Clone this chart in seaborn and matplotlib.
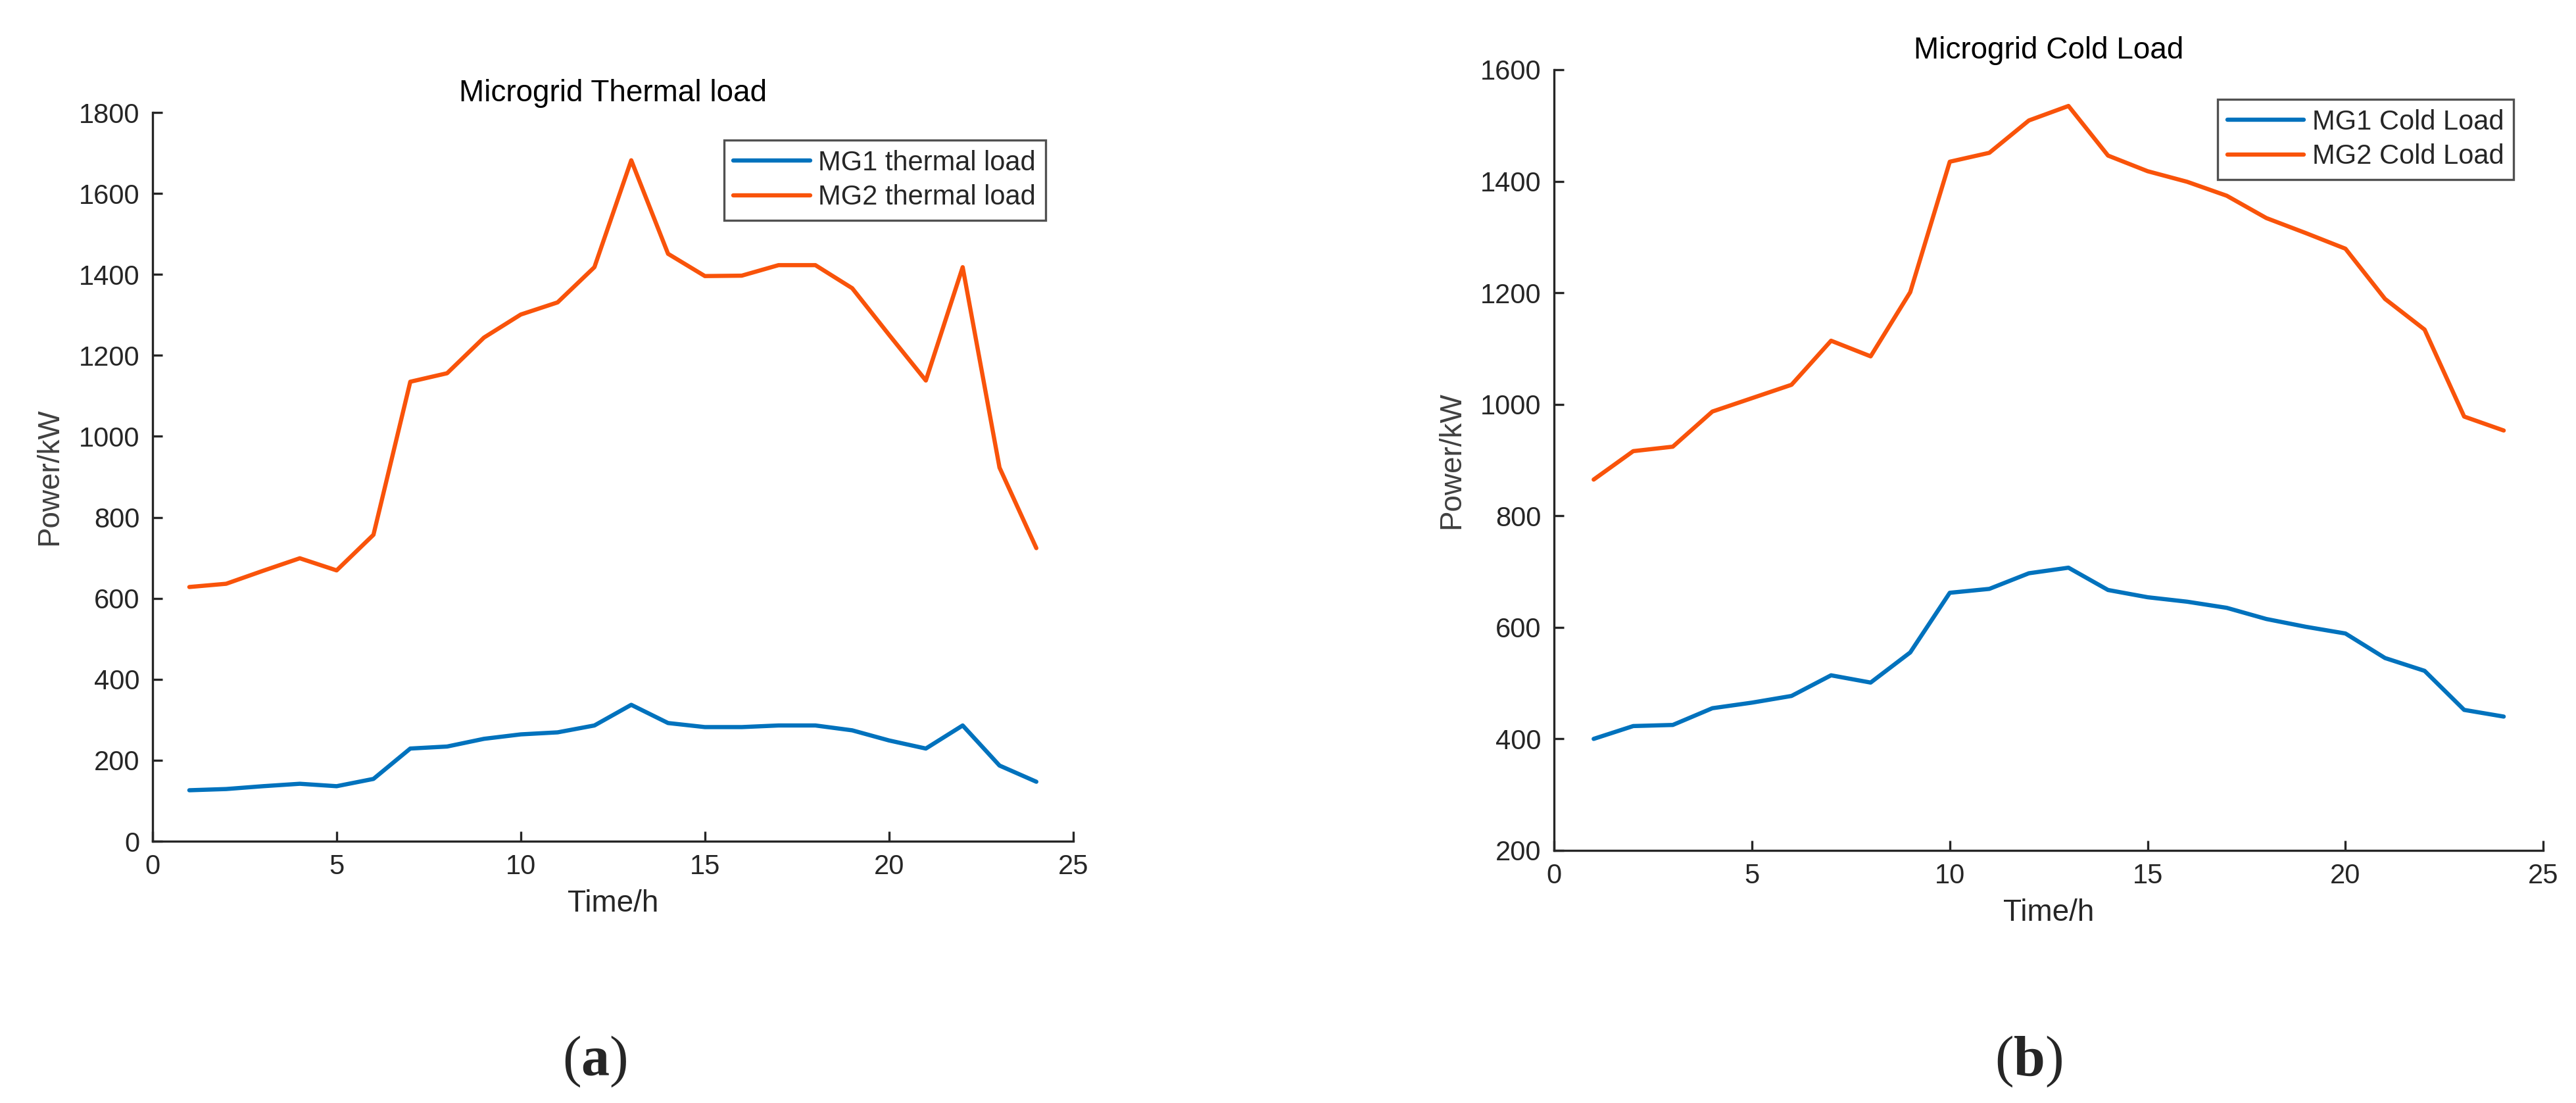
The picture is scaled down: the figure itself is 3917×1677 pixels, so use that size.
import matplotlib
matplotlib.use("Agg")
import matplotlib.pyplot as plt
import seaborn as sns
import pandas as pd

# hourly load data
hours = list(range(1, 25))
mg1_thermal = [126, 129, 136, 142, 136, 154, 229, 234, 253, 264, 269, 286,
               337, 292, 282, 282, 286, 286, 274, 249, 229, 286, 187, 147]
mg2_thermal = [628, 636, 668, 699, 669, 757, 1135, 1156, 1244, 1301, 1331, 1418,
               1682, 1451, 1396, 1397, 1423, 1423, 1366, 1251, 1138, 1418, 923, 724]
mg1_cold = [400, 423, 425, 455, 465, 477, 514, 501, 555, 662, 669, 697,
            707, 667, 654, 646, 635, 615, 601, 589, 545, 522, 452, 440]
mg2_cold = [865, 916, 924, 987, 1011, 1035, 1114, 1086, 1201, 1435, 1451, 1509,
            1535, 1446, 1418, 1399, 1374, 1334, 1307, 1279, 1189, 1134, 978, 953]

thermal_labels = ["MG1 thermal load", "MG2 thermal load"]
cold_labels = ["MG1 Cold Load", "MG2 Cold Load"]
x_ticks = [0, 5, 10, 15, 20, 25]
thermal_yticks = list(range(0, 1801, 200))
cold_yticks = list(range(200, 1601, 200))

BLUE = "#0072BD"
ORANGE = "#F9530A"
DARK = "#262626"

sns.set_style("ticks")
plt.rcParams["font.family"] = ["Liberation Sans", "DejaVu Sans"]
plt.rcParams["mathtext.fontset"] = "custom"
plt.rcParams["mathtext.rm"] = "Liberation Serif"
plt.rcParams["mathtext.bf"] = "Liberation Serif:bold"


def long_frame(s1, s2, labels):
    return pd.DataFrame({
        "Time": hours + hours,
        "Power": s1 + s2,
        "Series": [labels[0]] * len(hours) + [labels[1]] * len(hours),
    })


def draw_panel(ax, df, labels, title, ylim, yticks):
    sns.lineplot(data=df, x="Time", y="Power", hue="Series", hue_order=labels,
                 palette=[BLUE, ORANGE], linewidth=4.6, ax=ax)
    ax.set_xlim(0, 25)
    ax.set_ylim(*ylim)
    ax.set_xticks(x_ticks)
    ax.set_yticks(yticks)
    ax.tick_params(direction="in", length=11, width=2.4, labelsize=30,
                   colors=DARK, pad=14)
    for side in ["top", "right"]:
        ax.spines[side].set_visible(False)
    for side in ["left", "bottom"]:
        ax.spines[side].set_linewidth(2.4)
        ax.spines[side].set_color(DARK)
    ax.set_xlabel("Time/h", fontsize=33, color=DARK, labelpad=10)
    ax.set_ylabel("Power/kW", fontsize=33, color="#404040", labelpad=16)
    ax.set_title(title, fontsize=33, color="black", pad=12)
    leg = ax.legend(loc="upper right", bbox_to_anchor=(0.97, 0.962),
                    frameon=True, fancybox=False, edgecolor=DARK, fontsize=30,
                    handlelength=2.8, borderpad=0.35, labelspacing=0.3,
                    handletextpad=0.3, borderaxespad=0)
    leg.get_frame().set_linewidth(2.4)
    for line in leg.get_lines():
        line.set_linewidth(4.6)


fig = plt.figure(figsize=(39.17, 16.77), dpi=100)
ax_a = fig.add_axes([0.0592, 0.2373, 0.3574, 0.6607])
ax_b = fig.add_axes([0.6033, 0.2290, 0.3840, 0.7078])

draw_panel(ax_a, long_frame(mg1_thermal, mg2_thermal, thermal_labels),
           thermal_labels, "Microgrid Thermal load", (0, 1800), thermal_yticks)
draw_panel(ax_b, long_frame(mg1_cold, mg2_cold, cold_labels),
           cold_labels, "Microgrid Cold Load", (200, 1600), cold_yticks)

fig.text(0.2308, 0.037, r"($\mathbf{a}$)", ha="center", va="center",
         fontsize=62, family="Liberation Serif")
fig.text(0.7876, 0.037, r"($\mathbf{b}$)", ha="center", va="center",
         fontsize=62, family="Liberation Serif")

fig.savefig("out.png", dpi=100, facecolor="white")
plt.close(fig)
